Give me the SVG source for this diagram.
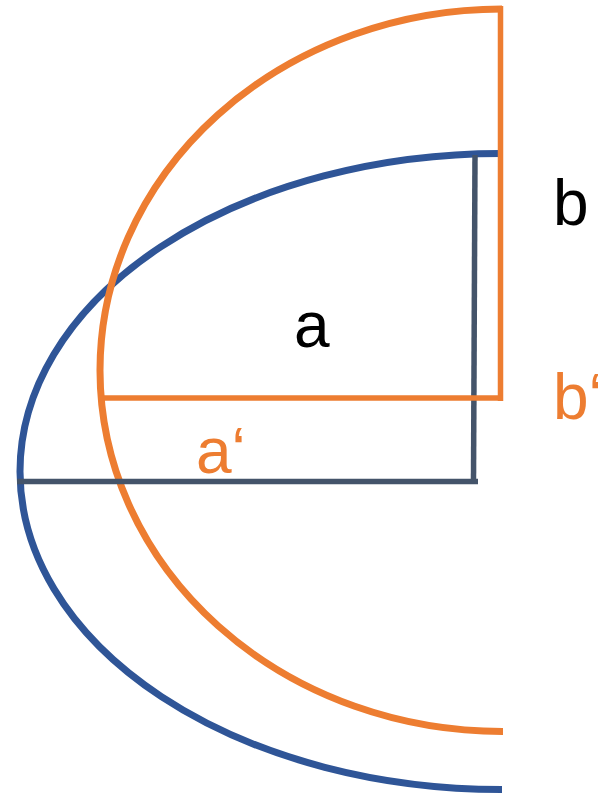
<svg xmlns="http://www.w3.org/2000/svg" width="598" height="796" viewBox="0 0 598 796">
<style>
.o{stroke:#ED7D31;fill:none}
.bl{stroke:#2F5597;fill:none}
.g{stroke:#44546A;fill:none}
text{font-family:"Liberation Sans",Arial,sans-serif;font-size:64px}
</style>
<rect width="598" height="796" fill="#fff"/>
<g id="blue-ellipse">
<path class="bl" stroke-width="7" d="M 501 153.5 A 481.5 318 0 0 0 502 789.5"/>
</g>
<g id="orange-ellipse">
<path class="o" stroke-width="7" d="M 502 9 A 402.5 361.25 0 0 0 503 731.5"/>
</g>
<g id="connectors">
<line class="g" stroke-width="5.5" x1="475" y1="155" x2="473.5" y2="481"/>
<line class="g" stroke-width="5.5" x1="17" y1="481.5" x2="478" y2="481.5"/>
<line class="o" stroke-width="5.5" x1="500.5" y1="6" x2="500.5" y2="401"/>
<line class="o" stroke-width="5.5" x1="99" y1="398" x2="503" y2="398"/>
</g>
<g id="labels">
<text x="294" y="346.5" fill="#000">a</text>
<text x="553" y="225" fill="#000">b</text>
<text x="553" y="419" fill="#ED7D31">b‘</text>
<text x="196" y="473" fill="#ED7D31">a‘</text>
</g>
</svg>
